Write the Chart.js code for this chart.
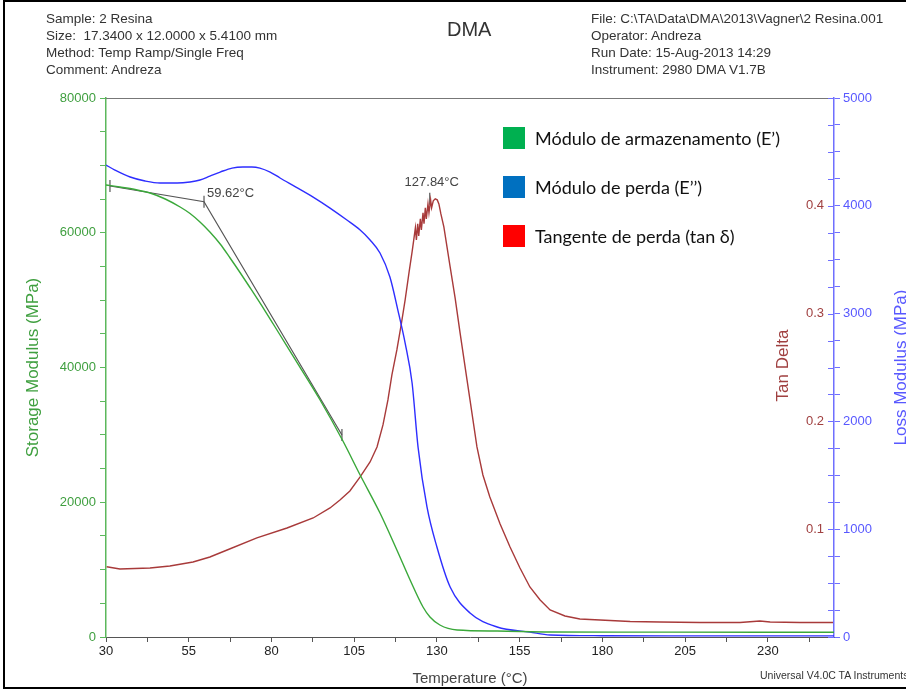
<!DOCTYPE html>
<html>
<head>
<meta charset="utf-8">
<script src="https://cdn.jsdelivr.net/npm/chart.js@4.4.0/dist/chart.umd.min.js"></script>
<style>
  html, body { margin: 0; padding: 0; background: #fff; overflow: hidden; }
  #wrap { position: relative; width: 906px; height: 689px; }
  #frame { position: absolute; left: 3px; top: 0; width: 960px; height: 685px; border: 2px solid #000; border-right: none; }
  canvas { position: absolute; left: 0; top: 0; }
  .hdr { position: absolute; font: 13.5px "Liberation Sans", Arial, sans-serif; color: #333; line-height: 17px; white-space: pre; }
  #title { position: absolute; left: 447px; top: 18px; font: 20px "Liberation Sans", Arial, sans-serif; color: #333; }
  .leg { position: absolute; left: 503px; height: 22px; font: 18px Lato, "Open Sans", sans-serif; color: #111; line-height: 22px; white-space: nowrap; }
  .leg span { display: inline-block; width: 22px; height: 22px; vertical-align: top; margin-right: 10px; }
  #footer { position: absolute; left: 760px; top: 669px; font: 10.5px "Liberation Sans", Arial, sans-serif; color: #333; white-space: nowrap; }
</style>
</head>
<body>
<div id="wrap">
  <canvas id="myChart" width="906" height="689"></canvas>
  <div id="frame"></div>
  <div class="hdr" style="left:46px;top:10px">Sample: 2 Resina
Size:  17.3400 x 12.0000 x 5.4100 mm
Method: Temp Ramp/Single Freq
Comment: Andreza</div>
  <div id="title">DMA</div>
  <div class="hdr" style="left:591px;top:10px">File: C:\TA\Data\DMA\2013\Vagner\2 Resina.001
Operator: Andreza
Run Date: 15-Aug-2013 14:29
Instrument: 2980 DMA V1.7B</div>
  <div class="leg" style="top:127px"><span style="background:#00b050"></span>Módulo de armazenamento (E’)</div>
  <div class="leg" style="top:176px"><span style="background:#0070c0"></span>Módulo de perda (E’’)</div>
  <div class="leg" style="top:225px"><span style="background:#ff0000"></span>Tangente de perda (tan δ)</div>
  <div id="footer">Universal V4.0C TA Instruments</div>
</div>
<script>
// temperature axis ticks (°C)
const tempTicks = [30, 42.5, 55, 67.5, 80, 92.5, 105, 117.5, 130, 142.5, 155, 167.5, 180, 192.5, 205, 217.5, 230, 242.5];
const tempLabels = [30, 55, 80, 105, 130, 155, 180, 205, 230];
const storageLabels = [0, 20000, 40000, 60000, 80000];
const lossLabels = [0, 1000, 2000, 3000, 4000, 5000];
const tanLabels = [0.1, 0.2, 0.3, 0.4];

// storage modulus E' (MPa)
const storageTemp = [30, 34.2, 38.8, 43.3, 47.9, 52.4, 55.4, 58.4, 61.4, 64.5, 67.5, 70.5, 73.5, 78.1, 82.6, 88.6, 94.7, 101.6, 106.8, 112.8, 117.9, 121.9, 125.8, 127.9, 130.9, 136.1, 148.2, 164.2, 200, 250];
const storageModulus = [67085, 66788, 66417, 65898, 65008, 63820, 62855, 61594, 60110, 58329, 56251, 54100, 51873, 48385, 44823, 40073, 35176, 29090, 24044, 18404, 12913, 8460, 4453, 2968, 1781, 1039, 891, 742, 720, 700];

// loss modulus E'' (MPa)
const lossTemp = [30, 32.7, 37.3, 41.8, 46.3, 51.5, 55.4, 58.4, 61.4, 64.5, 68.1, 71.4, 74.1, 76.5, 79.6, 82.6, 87.4, 92.6, 97.7, 102.8, 106.8, 109.8, 112.8, 115.8, 118.2, 120.4, 122.5, 124.3, 127.0, 130.0, 134.0, 140.0, 148.2, 158.1, 164.2, 180, 200, 220, 250];
const lossModulus = [4378, 4332, 4267, 4230, 4211, 4211, 4221, 4239, 4276, 4313, 4350, 4360, 4360, 4350, 4313, 4258, 4174, 4081, 3979, 3868, 3775, 3683, 3562, 3339, 3033, 2727, 2356, 1762, 1206, 835, 464, 223, 93, 46, 19, 12, 10, 10, 10];

// tan delta
const tanTemp = [30.2, 34.2, 43.3, 49.3, 56.3, 61.4, 66.6, 75.6, 84.7, 92.6, 97.7, 100.7, 103.7, 106.8, 109.8, 111.9, 113.7, 115.2, 116.4, 117.9, 119.2, 120.4, 121.6, 122.5,
  123.0, 123.5, 123.8, 124.2, 124.5, 125.0, 125.3, 125.8, 126.1, 126.5, 126.8, 127.3, 127.6, 128.1, 128.4, 128.9, 129.5, 130.1, 130.6, 131.2, 132.1,
  134.0, 135.5, 137.0, 139.1, 140.0, 142.1, 143.9, 146.0, 149.1, 152.1, 155.1, 158.1, 161.2, 164.2, 168.7, 173.2, 179.3, 188.4, 197.4, 209.5, 221.6, 227.6, 230.7, 239.7, 249.7];
const tanDelta = [0.0652, 0.0631, 0.0640, 0.0659, 0.0696, 0.0742, 0.0807, 0.0919, 0.1011, 0.1104, 0.1197, 0.1271, 0.1355, 0.1485, 0.1624, 0.1763, 0.1967, 0.2199, 0.2431, 0.2663, 0.2895, 0.3127, 0.3387, 0.3573,
  0.3684, 0.3796, 0.3684, 0.3833, 0.3721, 0.3879, 0.3777, 0.3935, 0.3833, 0.3981, 0.3879, 0.4018, 0.3935, 0.4055, 0.3981, 0.4046, 0.4065, 0.4055, 0.4018, 0.3925, 0.3805,
  0.3434, 0.3146, 0.2821, 0.2385, 0.2199, 0.1763, 0.1503, 0.1299, 0.1049, 0.0835, 0.0640, 0.0464, 0.0343, 0.0251, 0.0195, 0.0167, 0.0158, 0.0144, 0.0139, 0.0135, 0.0135, 0.0148, 0.0139, 0.0135, 0.0135];

// onset construction lines on E'
const onsetTemp = [31.2, 59.62, 101.3];
const onsetStorage = [66940, 64610, 29980];
// tan delta peak marker
const peakTemp = 127.84;
const peakMark = [0.401, 0.412];

function pts(xs, ys) {
  return xs.map((x, i) => ({x: x, y: ys[i]}));
}

const green = '#3aa83a', blue = '#2e2eff', red = '#a83a3a';
const tickFont = {family: '"Liberation Sans", Arial, sans-serif', size: 13};

const extras = {
  id: 'extras',
  afterDraw(chart) {
    const {ctx, chartArea: a, scales} = chart;
    ctx.save();
    // top frame line
    ctx.strokeStyle = '#777';
    ctx.lineWidth = 1;
    ctx.beginPath();
    ctx.moveTo(a.left, a.top + 0.5);
    ctx.lineTo(a.right, a.top + 0.5);
    ctx.stroke();
    // inward ticks on the right axis
    ctx.strokeStyle = '#6f6fff';
    scales.yLoss.ticks.forEach(t => {
      const y = Math.round(scales.yLoss.getPixelForValue(t.value)) + 0.5;
      ctx.beginPath();
      ctx.moveTo(a.right - 6, y);
      ctx.lineTo(a.right, y);
      ctx.stroke();
    });
    // tan delta labels
    ctx.fillStyle = '#a04040';
    ctx.font = '13px "Liberation Sans", Arial, sans-serif';
    ctx.textAlign = 'right';
    ctx.textBaseline = 'middle';
    tanLabels.forEach(v => {
      ctx.fillText(v.toFixed(1), a.right - 10, scales.yTan.getPixelForValue(v));
    });
    // right-hand axis titles
    const midY = (a.top + a.bottom) / 2;
    ctx.textAlign = 'center';
    ctx.font = '17px "Liberation Sans", Arial, sans-serif';
    ctx.save();
    ctx.translate(783, midY - 2);
    ctx.rotate(-Math.PI / 2);
    ctx.fillText('Tan Delta', 0, 0);
    ctx.restore();
    ctx.fillStyle = '#5858ff';
    ctx.save();
    ctx.translate(901, midY);
    ctx.rotate(-Math.PI / 2);
    ctx.fillText('Loss Modulus (MPa)', 0, 0);
    ctx.restore();
    // annotations
    ctx.fillStyle = '#444';
    ctx.font = '13px "Liberation Sans", Arial, sans-serif';
    ctx.textAlign = 'left';
    const ox = scales.x.getPixelForValue(onsetTemp[1]);
    const oy = scales.yE.getPixelForValue(onsetStorage[1]);
    ctx.fillText(onsetTemp[1].toFixed(2) + '°C', ox + 3, oy - 8);
    ctx.textAlign = 'center';
    const px = scales.x.getPixelForValue(peakTemp);
    const py = scales.yTan.getPixelForValue(peakMark[1]);
    ctx.fillText(peakTemp.toFixed(2) + '°C', px + 2, py - 10);
    ctx.restore();
  }
};

const ctx = document.getElementById('myChart').getContext('2d');
const myChart = new Chart(ctx, {
  type: 'line',
  data: {
    datasets: [
      {label: 'Storage Modulus', data: pts(storageTemp, storageModulus), yAxisID: 'yE', borderColor: green, borderWidth: 1.4, pointRadius: 0, cubicInterpolationMode: 'monotone'},
      {label: 'Loss Modulus', data: pts(lossTemp, lossModulus), yAxisID: 'yLoss', borderColor: blue, borderWidth: 1.4, pointRadius: 0, cubicInterpolationMode: 'monotone'},
      {label: 'Tan Delta', data: pts(tanTemp, tanDelta), yAxisID: 'yTan', borderColor: red, borderWidth: 1.4, pointRadius: 0, tension: 0},
      {label: 'Onset', data: pts(onsetTemp, onsetStorage), yAxisID: 'yE', borderColor: '#555', borderWidth: 1.2, tension: 0,
        pointStyle: 'line', pointRotation: 90, pointRadius: 6, pointBorderColor: '#555', pointBorderWidth: 1.2},
      {label: 'Peak', data: pts([peakTemp, peakTemp], peakMark), yAxisID: 'yTan', borderColor: '#555', borderWidth: 1.2, pointRadius: 0}
    ]
  },
  options: {
    responsive: false,
    animation: false,
    devicePixelRatio: 1,
    layout: {padding: {top: 98, left: 0, right: 0, bottom: 0}},
    plugins: {legend: {display: false}, tooltip: {enabled: false}},
    scales: {
      x: {
        type: 'linear', position: 'bottom', min: 30, max: 250,
        afterBuildTicks: s => { s.ticks = tempTicks.map(v => ({value: v})); },
        afterFit: s => { s.height = 52; },
        ticks: {autoSkip: false, maxRotation: 0, color: '#222', font: tickFont, padding: 2,
          callback: v => tempLabels.includes(v) ? String(v) : ''},
        grid: {drawOnChartArea: false, tickLength: 5, color: '#555'},
        border: {color: '#555', width: 1},
        title: {display: true, text: 'Temperature (°C)', color: '#444',
          font: {family: '"Liberation Sans", Arial, sans-serif', size: 15}, padding: {top: 0, bottom: 1}}
      },
      yE: {
        position: 'left', min: 0, max: 80000,
        afterFit: s => { s.width = 106; },
        ticks: {stepSize: 5000, maxTicksLimit: 100, autoSkip: false, color: '#3f9f3f', font: tickFont, padding: 4,
          callback: v => storageLabels.includes(v) ? String(v) : ''},
        grid: {drawOnChartArea: false, tickLength: 6, color: '#5cb85c'},
        border: {color: '#5cb85c', width: 1.5},
        title: {display: true, text: 'Storage Modulus (MPa)', color: '#3f9f3f',
          font: {family: '"Liberation Sans", Arial, sans-serif', size: 17}, padding: {top: 23, bottom: 0}}
      },
      yTan: {display: false, min: 0, max: 0.5},
      yLoss: {
        position: 'right', min: 0, max: 5000,
        afterFit: s => { s.width = 72; },
        ticks: {stepSize: 250, maxTicksLimit: 100, autoSkip: false, color: '#5858ff', font: tickFont, padding: 3,
          callback: v => lossLabels.includes(v) ? String(v) : ''},
        grid: {drawOnChartArea: false, tickLength: 6, color: '#6f6fff'},
        border: {color: '#6f6fff', width: 1.5}
      }
    }
  },
  plugins: [extras]
});
</script>
</body>
</html>
